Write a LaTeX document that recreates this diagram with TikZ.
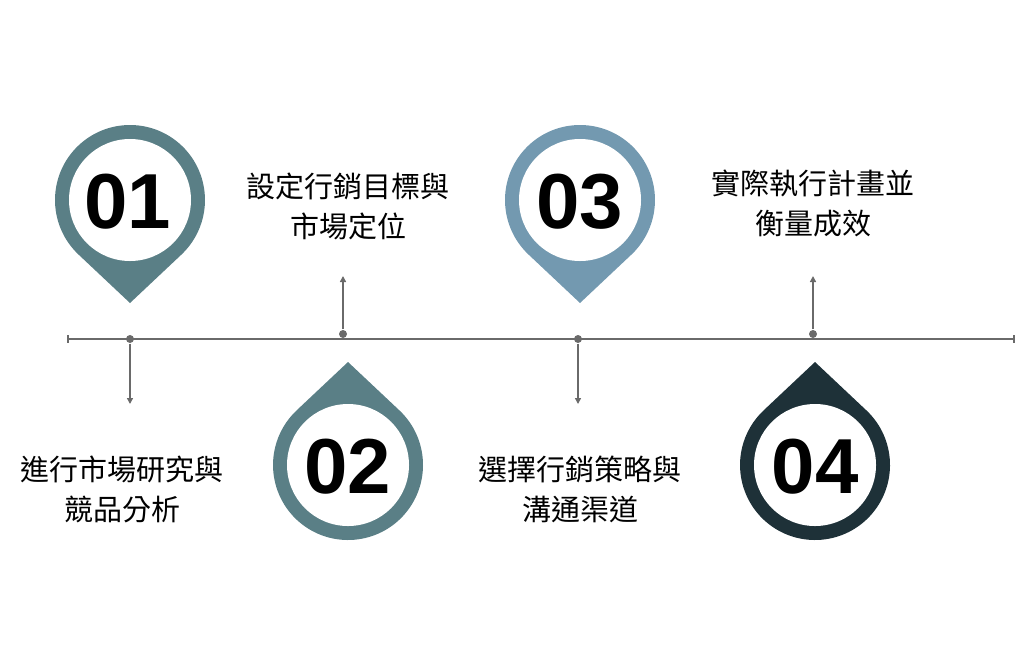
\documentclass[tikz,border=0pt]{standalone}
\usepackage{fontspec}
\setmainfont{Liberation Sans}
\newfontfamily\cjk{Noto Sans CJK TC}
\usetikzlibrary{arrows.meta, positioning, calc}

\definecolor{pinA}{HTML}{5A7F86}
\definecolor{pinC}{HTML}{7399B0}
\definecolor{pinD}{HTML}{1E3138}
\definecolor{axis}{HTML}{6A6A6A}

% teardrop pin: #1 centre, #2 tip angle, #3 colour
\newcommand{\drawpin}[3]{
	\fill[#3] (#1) ++(#2+43:75) arc[start angle=#2+43, end angle=#2+360-43, radius=75]
		-- ($(#1)+(#2:103)$) -- cycle;
	\fill[white] (#1) circle[radius=61];
}

\begin{document}
\begin{tikzpicture}[
		x=1pt, y=-1pt,
		line width=1.4pt,
		num/.style={font=\bfseries\fontsize{78}{78}\selectfont, text=black},
		desc/.style={font=\cjk\fontsize{29}{40}\selectfont, align=center, text=black},
		link/.style={axis, -{Triangle[length=6pt, width=6pt]}},
		dot/.style={fill=axis, circle, inner sep=0pt, minimum size=8pt}
		]
	\useasboundingbox (0, 0) rectangle (1024, 665);

	% Pins
	\drawpin{130,200}{90}{pinA}
	\drawpin{348,465}{-90}{pinA}
	\drawpin{580,200}{90}{pinC}
	\drawpin{815,465}{-90}{pinD}

	\node[num] (n1) at (128, 202) {01};
	\node[num] (n2) at (348, 467) {02};
	\node[num] (n3) at (580, 202) {03};
	\node[num] (n4) at (815, 467) {04};

	% Timeline
	\coordinate (start) at (68, 339);
	\coordinate (end) at (1014, 339);
	\draw[axis] (start) -- (end);
	\draw[axis] (68, 335) -- (68, 343);
	\draw[axis] (1014, 335) -- (1014, 343);

	\node[dot] (d1) at (130, 339) {};
	\node[dot] (d2) at (343, 334) {};
	\node[dot] (d3) at (578, 339) {};
	\node[dot] (d4) at (813, 334) {};

	% Labels
	\node[desc] (t1) at (122, 489) {進行市場研究與\\競品分析};
	\node[desc] (t2) at (348, 206) {設定行銷目標與\\市場定位};
	\node[desc] (t3) at (580, 489) {選擇行銷策略與\\溝通渠道};
	\node[desc] (t4) at (813, 203) {實際執行計畫並\\衡量成效};

	\coordinate (a1) at (130, 404);
	\coordinate (a2) at (343, 276);
	\coordinate (a3) at (578, 404);
	\coordinate (a4) at (813, 276);
	\draw[link] (d1) -- (a1);
	\draw[link] (d2) -- (a2);
	\draw[link] (d3) -- (a3);
	\draw[link] (d4) -- (a4);

\end{tikzpicture}
\end{document}
